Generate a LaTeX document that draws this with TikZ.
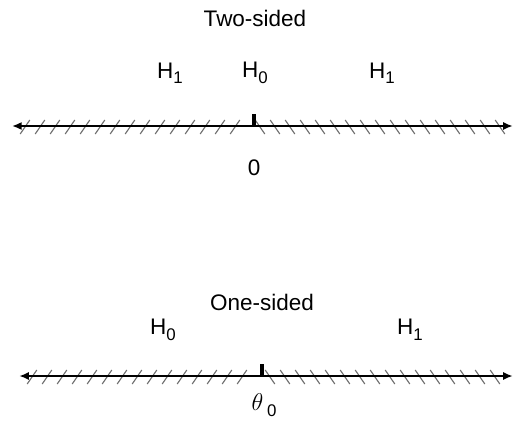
\documentclass[tikz,border=0pt]{standalone}
\usepackage{fontspec}
\setmainfont{Liberation Sans}
\usepackage{tikz}
\usetikzlibrary{arrows.meta}
\definecolor{hatchgrey}{RGB}{110,110,110}
\tikzset{
  base/.style={font=\fontsize{16}{19}\selectfont, inner sep=1pt, text=black},
  title/.style={base},
  hyp/.style={base},
  axis/.style={{Latex[length=2.4mm,width=2mm]}-{Latex[length=2.4mm,width=2mm]}, line width=1.3pt, draw=black},
  tick/.style={line width=2.2pt, draw=black},
  hatch/.style={line width=0.8pt, draw=hatchgrey},
}
\newcommand{\Hsub}[1]{H\raisebox{-0.45ex}{\fontsize{12}{14}\selectfont #1}}

\begin{document}
\begin{tikzpicture}
  \useasboundingbox (0,0) rectangle (12.85,10.675);
  % two-sided test
  \node[title] (ttl2) at (6.375,10.225) {Two-sided};
  \node[hyp] (h1a) at (4.25,8.85)  {\Hsub{1}};
  \node[hyp] (h0a) at (6.375,8.85) {\Hsub{0}};
  \node[hyp] (h1b) at (9.55,8.85)  {\Hsub{1}};
  \coordinate (la) at (0.3,7.525);
  \coordinate (ra) at (12.82,7.525);
  \coordinate (ta) at (6.35,7.525);
  \foreach \i in {0,...,14}{\draw[hatch] ({0.625+0.375*\i-0.12},7.325) -- ++(0.24,0.35);}
  \foreach \i in {0,...,16}{\draw[hatch] ({6.5+0.375*\i-0.12},7.675) -- ++(0.24,-0.35);}
  \draw[axis] (la) -- (ra);
  \draw[tick] (ta) -- ++(0,0.3);
  \node[base] (zero) at (6.35,6.475) {0};
  % one-sided test
  \node[title] (ttl1) at (6.55,3.125) {One-sided};
  \node[hyp] (h0c) at (4.075,2.43) {\Hsub{0}};
  \node[hyp] (h1c) at (10.25,2.43) {\Hsub{1}};
  \coordinate (lb) at (0.48,1.275);
  \coordinate (rb) at (12.82,1.275);
  \coordinate (tb) at (6.55,1.275);
  \foreach \i in {0,...,14}{\draw[hatch] ({0.8+0.375*\i-0.12},1.075) -- ++(0.24,0.35);}
  \foreach \i in {0,...,15}{\draw[hatch] ({6.75+0.375*\i-0.12},1.425) -- ++(0.24,-0.35);}
  \draw[axis] (lb) -- (rb);
  \draw[tick] (tb) -- ++(0,0.3);
  \node[base] (theta) at (6.6,0.55) {$\theta$\,\raisebox{-0.45ex}{\fontsize{12}{14}\selectfont 0}};
\end{tikzpicture}
\end{document}
